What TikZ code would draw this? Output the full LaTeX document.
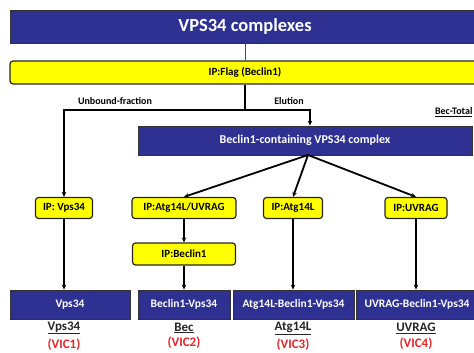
\documentclass[tikz,border=0pt]{standalone}
\usepackage{fontspec}
\setmainfont{Carlito}
\usepackage{xcolor}
\usetikzlibrary{arrows.meta, positioning, calc}

\definecolor{vicblue}{RGB}{46,49,146}
\definecolor{ipyellow}{RGB}{255,255,0}
\definecolor{vicred}{RGB}{232,36,44}

\begin{document}
\begin{tikzpicture}[
    x=1pt, y=-1pt,
    font=\bfseries\fontsize{11}{13}\selectfont,
    bluebox/.style={rectangle, draw=black!80, line width=0.8pt, fill=vicblue, text=white, minimum height=29pt, inner sep=0pt, font=\bfseries\fontsize{11.5}{13}\selectfont},
    ipbox/.style={rectangle, rounded corners=3pt, draw=black!85, line width=1.2pt, fill=ipyellow, minimum height=21pt, inner sep=0pt},
    lbl/.style={font=\bfseries\fontsize{10}{12}\selectfont},
    vicname/.style={font=\bfseries\fontsize{13}{15}\selectfont, text=black!85},
    vicid/.style={font=\bfseries\fontsize{13}{15}\selectfont, text=vicred},
    arrow/.style={line width=1.8pt, -{Stealth[length=5pt, width=4.5pt]}},
    plain/.style={line width=1.8pt}
]
\useasboundingbox (0,0) rectangle (474,353);

% Top
\node[bluebox, minimum width=470pt, minimum height=33pt, font=\bfseries\fontsize{18.5}{22}\selectfont] (title) at (245,26.5) {VPS34 complexes};
\node[ipbox, minimum width=470pt, minimum height=23pt] (flag) at (245,72.5) {IP:Flag (Beclin1)};

% Split
\coordinate (split) at (245,110);
\coordinate (splitL) at (64,110);
\coordinate (splitR) at (310,110);
\node[lbl] (unbound) at (115,101) {Unbound-fraction};
\node[lbl] (elution) at (289,101) {Elution};
\node[lbl, anchor=east] (bectotal) at (476,112) {\underline{Bec-Total}};

% Beclin1 complex
\node[bluebox, minimum width=334pt, font=\bfseries\fontsize{12}{14}\selectfont] (beccx) at (305,140.5) {Beclin1-containing VPS34 complex};

% IP boxes
\node[ipbox, minimum width=57pt] (ipvps) at (64,208) {IP: Vps34};
\node[ipbox, minimum width=104pt] (ipau) at (184,208) {IP:Atg14L/UVRAG};
\node[ipbox, minimum width=59pt] (ipatg) at (293,208) {IP:Atg14L};
\node[ipbox, minimum width=62pt] (ipuv) at (416,208) {IP:UVRAG};
\node[ipbox, minimum width=103pt, minimum height=22pt] (ipbec) at (184,254) {IP:Beclin1};

% Complexes
\node[bluebox, minimum width=120pt] (vps) at (70,304.5) {Vps34};
\node[bluebox, minimum width=92pt] (bec) at (184,304.5) {Beclin1-Vps34};
\node[bluebox, minimum width=121pt] (atg) at (293.5,304.5) {Atg14L-Beclin1-Vps34};
\node[bluebox, minimum width=122pt] (uv) at (417,304.5) {UVRAG-Beclin1-Vps34};

% Names
\node[vicname] (n1) at (64,328) {\underline{Vps34}};
\node[vicid, below=-3pt of n1] (v1) {(VIC1)};
\node[vicname] (n2) at (184,328) {\underline{Bec}};
\node[vicid, below=-3pt of n2] (v2) {(VIC2)};
\node[vicname] (n3) at (293,328) {\underline{Atg14L}};
\node[vicid, below=-3pt of n3] (v3) {(VIC3)};
\node[vicname] (n4) at (416,328) {\underline{UVRAG}};
\node[vicid, below=-3pt of n4] (v4) {(VIC4)};

% Arrows
\draw[line width=0.8pt, black!70] (title) -- (flag);
\draw[plain] (flag) -- (split);
\draw[arrow] (split) -- (splitL) -- (ipvps);
\draw[arrow] (split) -- (splitR) -- (splitR |- beccx.north);
\coordinate (fan) at (308,155);
\draw[arrow] (fan) -- (ipau.north);
\draw[arrow] (fan) -- (ipatg.north);
\draw[arrow] (fan) -- (ipuv.north);
\draw[arrow] (ipau) -- (ipbec);
\draw[arrow] (ipvps.south) -- (ipvps.south |- vps.north);
\draw[arrow] (ipbec.south) -- (ipbec.south |- bec.north);
\draw[arrow] (ipatg) -- (ipatg |- atg.north);
\draw[arrow] (ipuv) -- (ipuv |- uv.north);

\end{tikzpicture}
\end{document}
